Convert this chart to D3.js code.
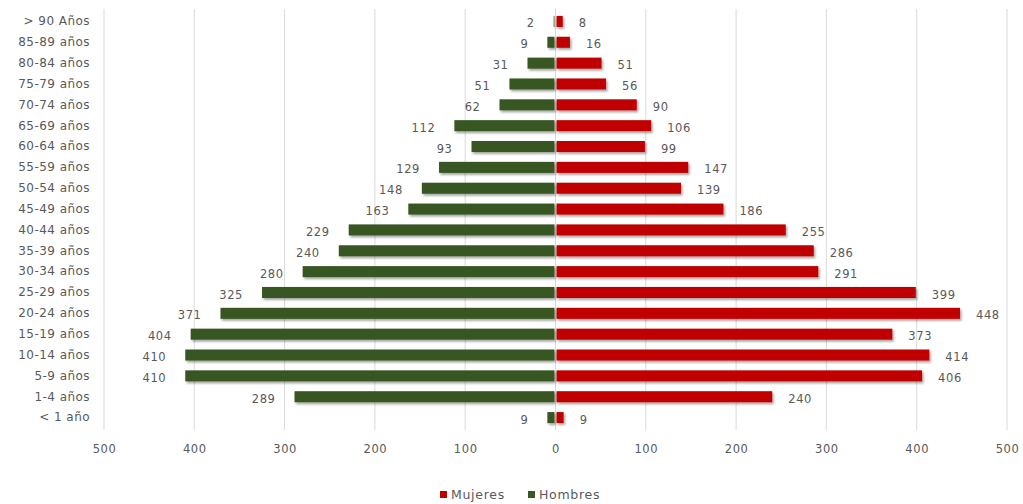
<!DOCTYPE html>
<html>
<head>
<meta charset="utf-8">
<script src="https://cdn.jsdelivr.net/npm/d3@7"></script>
<style>
  body { margin: 0; background: #fff; }
  text { font-family: "DejaVu Sans", "Liberation Sans", sans-serif; fill: #595959; }
</style>
</head>
<body>
<svg id="chart" width="1023" height="504"></svg>
<script>
const categories = ["> 90 Años","85-89 años","80-84 años","75-79 años","70-74 años","65-69 años","60-64 años","55-59 años","50-54 años","45-49 años","40-44 años","35-39 años","30-34 años","25-29 años","20-24 años","15-19 años","10-14 años","5-9 años","1-4 años","< 1 año"];
const hombres = [2, 9, 31, 51, 62, 112, 93, 129, 148, 163, 229, 240, 280, 325, 371, 404, 410, 410, 289, 9];
const mujeres = [8, 16, 51, 56, 90, 106, 99, 147, 139, 186, 255, 286, 291, 399, 448, 373, 414, 406, 240, 9];
const tickValues = [-500, -400, -300, -200, -100, 0, 100, 200, 300, 400, 500];
const seriesNames = ["Mujeres", "Hombres"];
const colors = { Mujeres: "#c00000", Hombres: "#385723" };

const svg = d3.select("#chart");
const defs = svg.append("defs");
const f = defs.append("filter").attr("id", "shadow").attr("x", "-10%").attr("y", "-50%").attr("width", "130%").attr("height", "250%");
f.append("feDropShadow").attr("dx", 1.5).attr("dy", 2).attr("stdDeviation", 1.3).attr("flood-color", "#000").attr("flood-opacity", 0.35);

const x = d3.scaleLinear().domain([-500, 500]).range([104, 1007]);
const y = d3.scaleBand().domain(categories).range([11, 428]).paddingInner(0.47).paddingOuter(0.235);

// gridlines
svg.append("g").selectAll("line").data(tickValues).join("line")
  .attr("x1", d => x(d)).attr("x2", d => x(d))
  .attr("y1", 9).attr("y2", 430)
  .attr("stroke", "#d9d9d9").attr("stroke-width", 1);

// x axis labels
const xAxis = d3.axisBottom(x).tickValues(tickValues).tickFormat(d => Math.abs(d)).tickSize(0).tickPadding(0);
const gx = svg.append("g").attr("transform", "translate(0,445)").call(xAxis);
gx.select(".domain").remove();
gx.selectAll("text").attr("font-size", 11.5).attr("letter-spacing", 0.6).attr("fill", "#595959")
  .attr("font-family", "DejaVu Sans, Liberation Sans, sans-serif");

// y axis category labels
const yAxis = d3.axisLeft(y).tickSize(0).tickPadding(0);
const gy = svg.append("g").attr("transform", "translate(90,0)").call(yAxis);
gy.select(".domain").remove();
gy.selectAll("text").attr("font-size", 12).attr("letter-spacing", 0.45).attr("fill", "#595959")
  .attr("font-family", "DejaVu Sans, Liberation Sans, sans-serif");

const bh = y.bandwidth();
// Hombres bars (left)
svg.append("g").attr("filter", "url(#shadow)").selectAll("rect").data(categories).join("rect")
  .attr("x", (d, i) => x(-hombres[i]))
  .attr("width", (d, i) => x(0) - 1 - x(-hombres[i]))
  .attr("y", d => y(d)).attr("height", bh)
  .attr("fill", colors.Hombres);

// Mujeres bars (right)
svg.append("g").attr("filter", "url(#shadow)").selectAll("rect").data(categories).join("rect")
  .attr("x", x(0) + 1)
  .attr("width", (d, i) => x(mujeres[i]) - x(0) - 1)
  .attr("y", d => y(d)).attr("height", bh)
  .attr("fill", colors.Mujeres);

// labels
svg.append("g").selectAll("text").data(categories).join("text")
  .attr("x", (d, i) => x(-hombres[i]) - 19)
  .attr("y", d => y(d) + bh / 2 + 2)
  .attr("dy", "0.35em")
  .attr("text-anchor", "end")
  .attr("font-size", 11.5).attr("letter-spacing", 0.6)
  .text((d, i) => hombres[i]);

svg.append("g").selectAll("text").data(categories).join("text")
  .attr("x", (d, i) => x(mujeres[i]) + 16)
  .attr("y", d => y(d) + bh / 2 + 2)
  .attr("dy", "0.35em")
  .attr("text-anchor", "start")
  .attr("font-size", 11.5).attr("letter-spacing", 0.6)
  .text((d, i) => mujeres[i]);

// legend
const legend = svg.append("g").attr("transform", "translate(440,495)");
const items = [{ name: "Mujeres", x: 0 }, { name: "Hombres", x: 88 }];
const li = legend.selectAll("g").data(items).join("g").attr("transform", d => `translate(${d.x},0)`);
li.append("rect").attr("x", 0).attr("y", -4).attr("width", 7).attr("height", 7).attr("fill", d => colors[d.name]);
li.append("text").attr("x", 11).attr("y", 0).attr("dy", "0.35em")
  .attr("font-size", 12.5).attr("letter-spacing", 0.7).text(d => d.name);
</script>
</body>
</html>
